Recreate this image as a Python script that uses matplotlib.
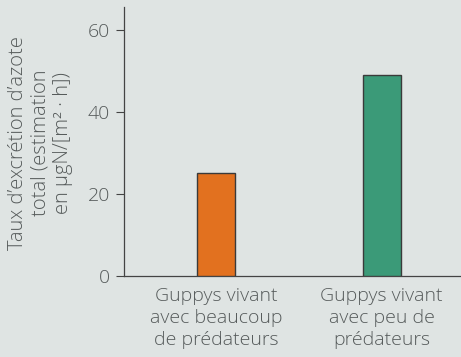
import matplotlib
matplotlib.use("Agg")
import matplotlib.pyplot as plt

plt.rcParams['font.family'] = ['Open Sans', 'DejaVu Sans']

categories = ["Guppys vivant\navec beaucoup\nde prédateurs",
              "Guppys vivant\navec peu de\nprédateurs"]
values = [25, 49]
colors = ["#e2711f", "#3b9a78"]
yticks = [0, 20, 40, 60]
ylabel = "Taux d\u2019excrétion d\u2019azote\ntotal (estimation\nen µgN/[m² \u00b7 h])"

bg = "#dfe4e3"
txt = "#555a5a"

fig = plt.figure(figsize=(4.61, 3.57), dpi=100, facecolor=bg)
ax = fig.add_axes([0.269, 0.228, 0.731, 0.752], facecolor=bg)

x = list(range(len(values)))
ax.bar(x, values, width=0.23, color=colors, edgecolor="#3a3a3a", linewidth=1.0, zorder=3)

ax.set_xlim(-0.556, 1.48)
ax.set_ylim(0, 65.6)
ax.set_yticks(yticks)
ax.set_yticklabels([str(v) for v in yticks], fontsize=14, color=txt, fontweight='light')
ax.set_xticks(x)
ax.set_xticklabels(categories, fontsize=14, color=txt, linespacing=1.3, fontweight='light')
ax.tick_params(axis='x', length=0, pad=8)
ax.tick_params(axis='y', direction='out', length=6, width=0.8, color="#444444", pad=4)

for s in ["top", "right"]:
    ax.spines[s].set_visible(False)
for s in ["left", "bottom"]:
    ax.spines[s].set_color("#444444")
    ax.spines[s].set_linewidth(0.9)

fig.text(0.088, 0.60, ylabel, rotation=90, ha="center", va="center",
         fontsize=14.5, color=txt, linespacing=1.15, fontweight='light')

fig.savefig("out.png", dpi=100, facecolor=bg)
